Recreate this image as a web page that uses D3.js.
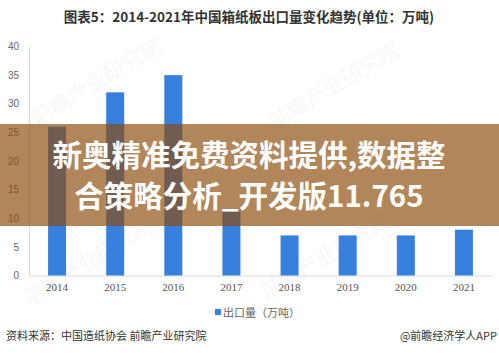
<!DOCTYPE html>
<html>
<head>
<meta charset="utf-8">
<script src="https://cdn.jsdelivr.net/npm/d3@7"></script>
<style>
  html, body { margin: 0; padding: 0; background: #fff; }
  svg { display: block; }
</style>
</head>
<body>
<svg id="chart" width="499" height="353"></svg>
<script>
// Export volume of Chinese containerboard, 10k tonnes
const years = ["2014", "2015", "2016", "2017", "2018", "2019", "2020", "2021"];
const exportVolume = [26, 32, 35, 11.2, 7, 7, 7, 8];
const yTicks = [0, 5, 10, 15, 20, 25, 30, 35, 40];

const titleText = "图表5：2014-2021年中国箱纸板出口量变化趋势(单位：万吨)";
const legendText = "出口量（万吨）";
const sourceText = "资料来源：中国造纸协会 前瞻产业研究院";
const creditText = "@前瞻经济学人APP";
const bannerLines = ["新奥精准免费资料提供,数据整", "合策略分析_开发版11.765"];
const watermarkText = "前瞻产业研究院";

const svg = d3.select("#chart");
const sans = "'Noto Sans CJK SC', 'Microsoft YaHei', sans-serif";

const x = d3.scaleBand().domain(years).range([28, 493]).paddingInner(0.69).paddingOuter(0.345);
const y = d3.scaleLinear().domain([0, 40]).range([275.5, 46.5]);

// title
svg.append("text")
  .attr("x", 249).attr("y", 22)
  .attr("text-anchor", "middle")
  .attr("font-family", sans).attr("font-weight", 700)
  .attr("font-size", 13.5).attr("fill", "#333")
  .text(titleText);

// faint diagonal watermarks
const marks = [[100, 88], [338, 92], [92, 268], [330, 262]];
svg.append("g").selectAll("text").data(marks).join("text")
  .attr("transform", d => `translate(${d[0]},${d[1]}) rotate(-31)`)
  .attr("text-anchor", "middle")
  .attr("font-family", sans).attr("font-size", 21)
  .attr("fill", "#9aa4b0").attr("opacity", 0.08)
  .text(watermarkText);

// y axis
const yAxis = svg.append("g")
  .attr("transform", "translate(29,0)")
  .call(d3.axisLeft(y).tickValues(yTicks).tickSize(0).tickPadding(10));
yAxis.select(".domain").attr("stroke", "#d9d9d9");
yAxis.selectAll("text")
  .attr("font-family", "'Liberation Sans', Arial, sans-serif")
  .attr("font-size", 10).attr("fill", "#666");

// x axis
const xAxis = svg.append("g")
  .attr("transform", `translate(0,${y(0)})`)
  .call(d3.axisBottom(x).tickSize(0).tickPadding(8));
xAxis.select(".domain").attr("stroke", "#d9d9d9").attr("d", `M29,0.5H493`);
xAxis.selectAll("text")
  .attr("font-family", "'Liberation Serif', 'Times New Roman', serif")
  .attr("font-size", 11).attr("fill", "#555");

// bars
svg.append("g").selectAll("rect").data(years).join("rect")
  .attr("x", d => x(d))
  .attr("width", x.bandwidth())
  .attr("y", (d, i) => y(exportVolume[i]))
  .attr("height", (d, i) => y(0) - y(exportVolume[i]))
  .attr("fill", "#3880de");

// legend
const legend = svg.append("g").attr("transform", "translate(215,313)");
legend.append("rect").attr("x", 0).attr("y", -4).attr("width", 6).attr("height", 6).attr("fill", "#3880de");
legend.append("text").attr("x", 8).attr("y", 4)
  .attr("font-family", sans).attr("font-size", 11).attr("fill", "#666")
  .text(legendText);

// footer
svg.append("text").attr("x", 6).attr("y", 340)
  .attr("font-family", sans).attr("font-size", 11).attr("fill", "#333")
  .text(sourceText);
svg.append("text").attr("x", 497).attr("y", 340).attr("text-anchor", "end")
  .attr("font-family", sans).attr("font-size", 11).attr("fill", "#333")
  .text(creditText);

// translucent banner with headline
svg.append("rect").attr("x", 0).attr("y", 124).attr("width", 499).attr("height", 102)
  .attr("fill", "rgb(140,74,11)").attr("fill-opacity", 0.67);
svg.append("g").selectAll("text").data(bannerLines).join("text")
  .attr("x", 249)
  .attr("y", (d, i) => 165.5 + i * 41.5)
  .attr("text-anchor", "middle")
  .attr("font-family", sans).attr("font-weight", 700)
  .attr("font-size", 29.5).attr("fill", "#fff")
  .text(d => d);
</script>
</body>
</html>
